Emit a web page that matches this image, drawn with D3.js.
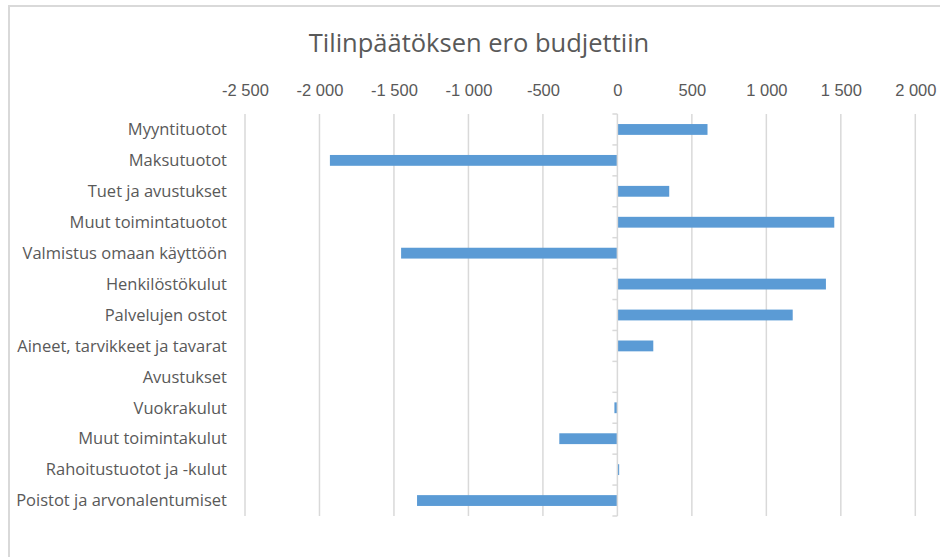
<!DOCTYPE html>
<html>
<head>
<meta charset="utf-8">
<script src="https://cdn.jsdelivr.net/npm/d3@7"></script>
<style>
  body { margin: 0; background: #fff; }
  svg { display: block; font-family: "Open Sans", sans-serif; }
</style>
</head>
<body>
<div id="chart"></div>
<script>
var chartTitle = "Tilinpäätöksen ero budjettiin";

var categories = [
    "Myyntituotot",
    "Maksutuotot",
    "Tuet ja avustukset",
    "Muut toimintatuotot",
    "Valmistus omaan käyttöön",
    "Henkilöstökulut",
    "Palvelujen ostot",
    "Aineet, tarvikkeet ja tavarat",
    "Avustukset",
    "Vuokrakulut",
    "Muut toimintakulut",
    "Rahoitustuotot ja -kulut",
    "Poistot ja arvonalentumiset"
];

var differences = [605, -1930, 348, 1456, -1452, 1400, 1177, 241, 0, -20, -390, 12, -1345];

var tickValues = [-2500, -2000, -1500, -1000, -500, 0, 500, 1000, 1500, 2000];

var drawChart = (function () {
    const width = 940;
    const height = 557;
    const plotLeft = 245, plotRight = 915.3;
    const plotTop = 114, plotBottom = 516;

    function formatTick(d) {
        // Finnish style: space as thousands separator
        var s = d3.format(",")(Math.abs(d)).replace(/,/g, "\u00a0");
        return (d < 0 ? "-" : "") + s;
    }

    function build() {
        var svg = d3.select("#chart").append("svg")
            .attr("width", width)
            .attr("height", height);

        // chart frame (runs off the right and bottom of the picture)
        svg.append("rect")
            .attr("x", 9)
            .attr("y", 6)
            .attr("width", 960)
            .attr("height", 600)
            .attr("fill", "#fff")
            .attr("stroke", "#d9d9d9")
            .attr("stroke-width", 2);

        svg.append("text")
            .attr("x", 479)
            .attr("y", 52)
            .attr("text-anchor", "middle")
            .attr("fill", "#595959")
            .style("font-size", "25.5px")
            .text(chartTitle);

        var x = d3.scaleLinear()
            .domain([-2500, 2000])
            .range([plotLeft, plotRight]);

        var y = d3.scaleBand()
            .domain(categories)
            .range([plotTop, plotBottom])
            .paddingInner(0.65)
            .paddingOuter(0.325);

        // gridlines
        svg.append("g")
            .selectAll("line")
            .data(tickValues.filter(function (d) { return d !== 0; }))
            .enter()
            .append("line")
            .attr("x1", function (d) { return x(d); })
            .attr("x2", function (d) { return x(d); })
            .attr("y1", plotTop)
            .attr("y2", plotBottom)
            .attr("stroke", "#d9d9d9")
            .attr("stroke-width", 1.5);

        // top axis labels
        var xAxis = d3.axisTop(x)
            .tickValues(tickValues)
            .tickSize(0)
            .tickPadding(0)
            .tickFormat(formatTick);

        var gx = svg.append("g")
            .attr("transform", "translate(0," + 96 + ")")
            .call(xAxis);
        gx.select(".domain").remove();
        gx.selectAll("text")
            .attr("fill", "#595959")
            .attr("dy", 0)
            .style("font-size", "16.5px");

        // bars
        svg.append("g")
            .selectAll("rect")
            .data(differences)
            .enter()
            .append("rect")
            .attr("x", function (d) { return Math.min(x(0), x(d)); })
            .attr("y", function (d, i) { return y(categories[i]); })
            .attr("width", function (d) { return Math.abs(x(d) - x(0)); })
            .attr("height", y.bandwidth())
            .attr("fill", "#5b9bd5");

        // vertical category axis at zero
        var boundaries = d3.range(categories.length + 1).map(function (i) {
            return plotTop + i * (plotBottom - plotTop) / categories.length;
        });
        var axis = svg.append("g");
        axis.append("line")
            .attr("x1", x(0)).attr("x2", x(0))
            .attr("y1", plotTop).attr("y2", plotBottom)
            .attr("stroke", "#d9d9d9")
            .attr("stroke-width", 1.5);
        axis.selectAll(".tick")
            .data(boundaries)
            .enter()
            .append("line")
            .attr("x1", x(0) - 5).attr("x2", x(0))
            .attr("y1", function (d) { return d; })
            .attr("y2", function (d) { return d; })
            .attr("stroke", "#d9d9d9")
            .attr("stroke-width", 1.5);

        // category labels
        svg.append("g")
            .selectAll("text")
            .data(categories)
            .enter()
            .append("text")
            .attr("x", 227)
            .attr("y", function (d) { return y(d) + y.bandwidth() / 2; })
            .attr("dy", "0.35em")
            .attr("text-anchor", "end")
            .attr("fill", "#595959")
            .style("font-size", "16.5px")
            .text(function (d) { return d; });
    }

    document.addEventListener("DOMContentLoaded", build);
}());
</script>
</body>
</html>
